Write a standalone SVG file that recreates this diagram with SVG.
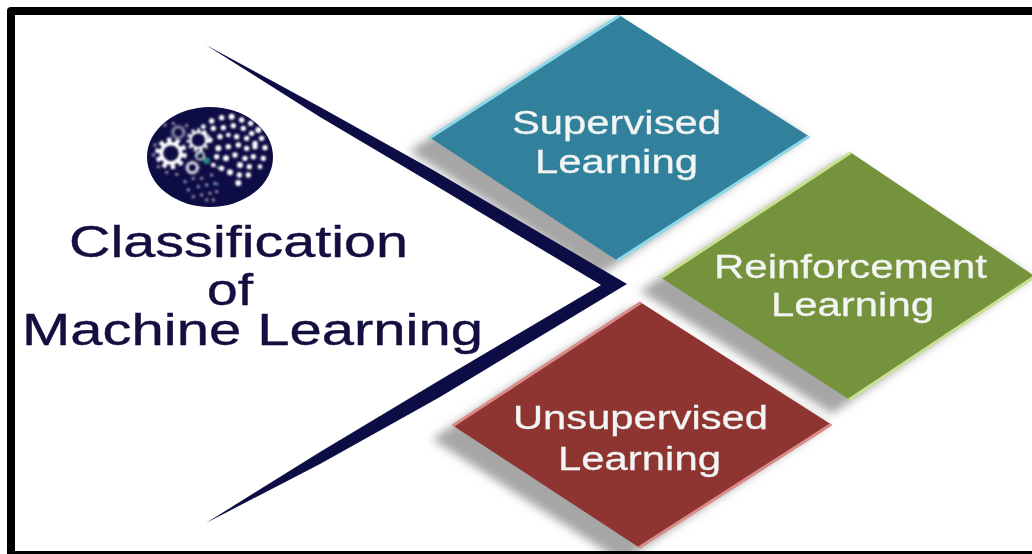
<svg xmlns="http://www.w3.org/2000/svg" width="1032" height="554" viewBox="0 0 1032 554">
<defs>
<filter id="soft" x="-5%" y="-5%" width="110%" height="110%"><feGaussianBlur stdDeviation="0.5"/></filter>
<filter id="shadow" x="-20%" y="-20%" width="140%" height="140%"><feGaussianBlur stdDeviation="5"/></filter>
<filter id="logoblur" x="-10%" y="-10%" width="120%" height="120%"><feGaussianBlur stdDeviation="2.400"/></filter>
</defs>
<style>
.sh{fill:#a6a6a6}
.lbl{font-family:"Liberation Sans",Arial,sans-serif;font-size:34px;fill:#f2f5f4;stroke:#f2f5f4;stroke-width:.3}
.ttl{font-family:"Liberation Sans",Arial,sans-serif;font-size:44px;fill:#12113f;stroke:#12113f;stroke-width:.4}
.dots circle{fill:#fff}
.faint circle{fill:#8f92ad}
.gear{fill:none;stroke:#fff}
.edge{fill:none;stroke-width:3;stroke-linecap:round}
</style>
<rect width="1032" height="554" fill="#fff"/>
<g filter="url(#soft)">
<g id="shadows" filter="url(#shadow)">
<polygon class="sh" points="612,20 409,151 600,275 805,137"/>
<polygon class="sh" points="843,157 640,291 832,414 1031,277"/>
<polygon class="sh" points="633,307 432,439 622,562 827,425"/>
</g>
<g id="connectors">
<path d="M206,45 L320,107 L433,170 L627,284 L440,397 L320,464 L206,523 L320,452 L440,380 L601,285 L433,184 L320,117 Z" fill="#100d45"/>
</g>
<g id="logo">
<ellipse cx="210" cy="157" rx="63" ry="50" fill="#100d45"/>
<g transform="translate(130 95) scale(.3333)" filter="url(#logoblur)">
<g class="dots">
<circle cx="245" cy="78" r="8"/><circle cx="275" cy="68" r="8"/><circle cx="305" cy="65" r="9"/><circle cx="335" cy="75" r="8"/><circle cx="362" cy="85" r="8"/><circle cx="385" cy="105" r="9"/>
<circle cx="220" cy="95" r="7"/><circle cx="250" cy="100" r="8"/><circle cx="280" cy="98" r="8"/><circle cx="310" cy="92" r="8"/><circle cx="340" cy="100" r="8"/><circle cx="365" cy="115" r="8"/><circle cx="395" cy="130" r="8"/>
<circle cx="270" cy="125" r="8"/><circle cx="295" cy="120" r="7"/><circle cx="320" cy="125" r="8"/><circle cx="350" cy="130" r="8"/><circle cx="375" cy="145" r="8"/><circle cx="405" cy="158" r="8"/>
<circle cx="240" cy="135" r="8"/><circle cx="265" cy="160" r="9"/><circle cx="295" cy="155" r="8"/><circle cx="325" cy="150" r="8"/><circle cx="350" cy="160" r="8"/><circle cx="375" cy="155" r="8"/><circle cx="400" cy="190" r="8"/>
<circle cx="260" cy="185" r="8"/><circle cx="288" cy="190" r="9"/><circle cx="315" cy="180" r="8"/><circle cx="345" cy="190" r="8"/><circle cx="370" cy="185" r="8"/><circle cx="390" cy="215" r="7"/>
<circle cx="250" cy="210" r="7"/><circle cx="275" cy="220" r="8"/><circle cx="300" cy="232" r="9"/><circle cx="330" cy="210" r="9"/><circle cx="358" cy="215" r="8"/>
<circle cx="328" cy="240" r="8"/><circle cx="355" cy="240" r="8"/><circle cx="325" cy="264" r="9"/><circle cx="225" cy="115" r="6"/>
</g>
<g class="faint">
<circle cx="75" cy="150" r="5"/><circle cx="70" cy="180" r="5"/><circle cx="85" cy="215" r="5"/><circle cx="110" cy="232" r="5"/><circle cx="140" cy="238" r="5"/><circle cx="105" cy="90" r="5"/><circle cx="130" cy="85" r="5"/><circle cx="170" cy="92" r="5"/><circle cx="165" cy="260" r="5"/><circle cx="190" cy="250" r="5"/><circle cx="215" cy="250" r="5"/><circle cx="245" cy="240" r="5"/><circle cx="175" cy="285" r="5"/><circle cx="205" cy="275" r="5"/><circle cx="230" cy="270" r="5"/><circle cx="255" cy="265" r="5"/><circle cx="190" cy="305" r="5"/><circle cx="215" cy="300" r="5"/><circle cx="240" cy="295" r="5"/><circle cx="260" cy="290" r="5"/><circle cx="230" cy="315" r="5"/><circle cx="250" cy="315" r="5"/>
</g>
<circle class="gear" cx="123" cy="175" r="29" stroke-width="11"/>
<circle class="gear" cx="123" cy="175" r="40" stroke-width="15" stroke-dasharray="13 12.100"/>
<circle class="gear" cx="205" cy="135" r="24" stroke-width="7"/>
<circle class="gear" cx="205" cy="135" r="31" stroke-width="9" stroke-dasharray="9 8.700" opacity=".9"/>
<circle class="gear" cx="145" cy="112" r="15" stroke-width="4" opacity=".75"/>
<circle class="gear" cx="145" cy="112" r="20" stroke-width="5" stroke-dasharray="5 5.500" opacity=".7"/>
<circle class="gear" cx="187" cy="218" r="14" stroke-width="6"/>
<circle class="gear" cx="187" cy="218" r="19" stroke-width="5" stroke-dasharray="5 5" opacity=".9"/>
<circle class="gear" cx="210" cy="182" r="12" stroke-width="5"/>
<circle cx="230" cy="197" r="10" fill="#1f8a86"/>
<circle cx="206" cy="178" r="5" fill="#1f8a86"/>
<circle cx="262" cy="268" r="4" fill="#1f8a86"/>
<circle cx="263" cy="218" r="4" fill="#1f8a86"/>
</g>
</g>
<g id="node-supervised">
<polygon points="619,15 429,137 618,261 810,137" fill="#31819c"/>
<path class="edge" stroke="#8fd8e8" d="M619,16 L431,137 M618,260 L808,137"/>
<text class="lbl" x="512" y="134" textLength="209" lengthAdjust="spacingAndGlyphs">Supervised</text>
<text class="lbl" x="535" y="173" textLength="163" lengthAdjust="spacingAndGlyphs">Learning</text>
</g>
<g id="node-reinforcement">
<polygon points="850,152 660,277 850,400 1036,277" fill="#75923c"/>
<path class="edge" stroke="#c8e092" d="M850,153 L662,277 M850,399 L1034,277"/>
<text class="lbl" x="714" y="278" textLength="273" lengthAdjust="spacingAndGlyphs">Reinforcement</text>
<text class="lbl" x="771" y="316" textLength="163" lengthAdjust="spacingAndGlyphs">Learning</text>
</g>
<g id="node-unsupervised">
<polygon points="640,302 452,425 640,548 832,425" fill="#8e3431"/>
<path class="edge" stroke="#d98d8a" d="M640,303 L454,425 M640,547 L830,425"/>
<text class="lbl" x="513" y="429" textLength="255" lengthAdjust="spacingAndGlyphs">Unsupervised</text>
<text class="lbl" x="558" y="470" textLength="163" lengthAdjust="spacingAndGlyphs">Learning</text>
</g>
<g id="title">
<text class="ttl" x="69" y="257" textLength="339" lengthAdjust="spacingAndGlyphs">Classification</text>
<text class="ttl" x="207" y="305" textLength="46" lengthAdjust="spacingAndGlyphs">of</text>
<text class="ttl" x="22" y="345" textLength="461" lengthAdjust="spacingAndGlyphs">Machine Learning</text>
</g>
</g>
<path id="frame" d="M7,554 V11 Q7,7 11,7 H1032 V15 H15 V551 H1032 V554 Z" fill="#000"/>
</svg>
